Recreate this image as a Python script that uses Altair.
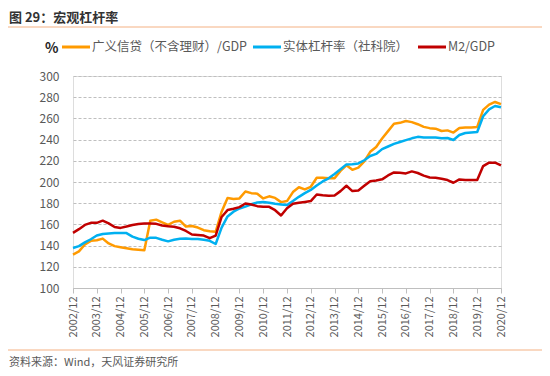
import altair as alt
import pandas as pd

# ---------------- data ----------------
series_names = ["广义信贷（不含理财）/GDP", "实体杠杆率（社科院）", "M2/GDP"]
series_colors = ["#FF9A00", "#00B0F0", "#C00000"]
tick_labels = [f"{y}/12" for y in range(2002, 2021)]  # quarterly data, 2002/12 .. 2020/12

credit = [131.5, 134.5, 141.0, 144.5, 145.0, 146.6, 142.0, 139.5, 138.5, 137.5,
          136.5, 136.0, 135.5, 163.5, 164.5, 162.0, 159.5, 162.5, 163.5, 158.0,
          158.5, 157.0, 154.5, 153.5, 153.0, 172.0, 185.0, 184.0, 184.5, 191.0,
          189.5, 189.0, 184.5, 186.5, 185.0, 181.0, 182.0, 190.5, 195.0, 193.0,
          195.5, 204.0, 204.0, 203.5, 203.5, 210.5, 215.8, 211.5, 213.5, 219.5,
          228.5, 233.0, 241.0, 248.0, 255.0, 255.8, 257.5, 256.5, 254.5, 252.0,
          250.8, 250.3, 248.1, 248.7, 246.6, 251.0, 251.3, 251.5, 252.0, 268.0,
          273.0, 275.5, 273.5]

leverage = [137.8, 139.5, 143.0, 146.0, 149.5, 151.0, 151.5, 152.0, 152.0, 151.8,
            148.5, 146.5, 145.2, 147.5, 147.3, 145.5, 144.0, 145.5, 146.5, 146.8,
            146.3, 146.3, 145.5, 144.5, 141.5, 157.0, 167.5, 172.0, 175.0, 176.8,
            179.0, 180.7, 181.2, 180.5, 179.5, 178.8, 178.2, 182.0, 186.0, 189.5,
            192.5, 196.7, 200.5, 203.5, 207.5, 212.0, 216.6, 216.8, 217.5, 220.5,
            224.5, 226.5, 231.0, 233.5, 236.0, 237.7, 239.5, 241.2, 242.6, 242.0,
            242.0, 242.0, 241.2, 241.5, 239.6, 244.3, 246.2, 246.8, 247.2, 262.0,
            268.5, 271.7, 270.5]

m2 = [152.0, 155.5, 159.5, 161.5, 161.5, 163.5, 161.0, 157.5, 156.7, 158.0,
      159.5, 160.3, 160.8, 160.8, 160.5, 159.0, 158.3, 157.8, 156.3, 153.8,
      150.5, 150.1, 149.5, 147.0, 149.5, 167.0, 173.5, 174.7, 176.3, 179.7,
      178.8, 177.2, 176.6, 176.6, 173.4, 168.4, 175.3, 179.5, 180.5, 181.2,
      182.0, 188.2, 187.5, 187.0, 187.3, 191.4, 196.5, 191.4, 192.0, 196.5,
      200.8, 201.5, 202.5, 206.2, 209.0, 208.7, 208.1, 210.0, 208.5, 206.0,
      204.2, 204.0, 203.1, 201.8, 199.3, 202.4, 202.0, 201.8, 201.8, 215.0,
      218.2, 218.2, 215.6]

rows = []
for name, vals in zip(series_names, [credit, leverage, m2]):
    for i, v in enumerate(vals):
        rows.append({"q": i, "series": name, "value": v})
df = pd.DataFrame(rows)

FONT = "Noto Sans CJK SC"
GRAY = "#595959"
label_array = "[" + ",".join(f"'{t}'" for t in tick_labels) + "]"

lines = alt.Chart(df).mark_line(strokeWidth=2.5, strokeJoin="round").encode(
    x=alt.X("q:Q",
            scale=alt.Scale(domain=[0, 72], nice=False, zero=False),
            axis=alt.Axis(values=list(range(0, 73, 4)),
                          labelExpr=label_array + "[round(datum.value/4)]",
                          labelAngle=270, labelAlign="right", labelBaseline="middle",
                          title=None, grid=False,
                          domainColor="#BFBFBF", tickColor="#BFBFBF", tickSize=5,
                          labelColor=GRAY, labelFontSize=11, labelPadding=3,
                          labelFont=FONT)),
    y=alt.Y("value:Q",
            scale=alt.Scale(domain=[100, 300], nice=False, zero=False),
            axis=alt.Axis(values=list(range(100, 301, 20)), title=None,
                          domain=False, ticks=False,
                          gridDash=[3, 2], gridColor="#BFBFBF", gridWidth=1,
                          labelColor=GRAY, labelFontSize=12, labelPadding=14,
                          labelFont=FONT)),
    color=alt.Color("series:N",
                    scale=alt.Scale(domain=series_names, range=series_colors),
                    legend=None),
    detail="series:N",
)

one = pd.DataFrame({"a": [0]})

# custom legend (line swatch + label) in the reference's positions
legend_layers = []
legend_swatch_x = [(-11, 17), (180, 208), (345, 373)]
for name, col, (x0, x1) in zip(series_names, series_colors, legend_swatch_x):
    legend_layers.append(
        alt.Chart(one).mark_rule(color=col, strokeWidth=3).encode(
            x=alt.value(x0), x2=alt.value(x1), y=alt.value(-29)))
    legend_layers.append(
        alt.Chart(pd.DataFrame({"t": [name]})).mark_text(
            align="left", baseline="middle", fontSize=12.5, font=FONT, color=GRAY
        ).encode(text="t:N", x=alt.value(x1 + 2), y=alt.value(-29)))

title = alt.Chart(pd.DataFrame({"t": ["图 29：宏观杠杆率"]})).mark_text(
    align="left", baseline="middle", fontSize=13, font=FONT, color="#333333",
    fontWeight="bold"
).encode(text="t:N", x=alt.value(-64), y=alt.value(-58))

pct = alt.Chart(pd.DataFrame({"t": ["%"]})).mark_text(
    align="left", baseline="middle", fontSize=14, font=FONT, color="#262626",
    fontWeight="bold"
).encode(text="t:N", x=alt.value(-28), y=alt.value(-27))

source = alt.Chart(pd.DataFrame({"t": ["资料来源：Wind，天风证券研究所"]})).mark_text(
    align="left", baseline="middle", fontSize=11, font=FONT, color=GRAY
).encode(text="t:N", x=alt.value(-64), y=alt.value(287))

top_rule = alt.Chart(one).mark_rule(color="#F4B183", strokeWidth=1).encode(
    x=alt.value(-65), x2=alt.value(469), y=alt.value(-49))
bottom_rule = alt.Chart(one).mark_rule(color="#F4B183", strokeWidth=1).encode(
    x=alt.value(-65), x2=alt.value(469), y=alt.value(274))

chart = alt.layer(lines, *legend_layers, title, pct, source, top_rule, bottom_rule).properties(
    width=428, height=212,
    autosize=alt.AutoSizeParams(type="none"),
    padding={"left": 65, "top": 68, "right": 41, "bottom": 80},
).configure_view(strokeWidth=0).configure(font=FONT)

chart.save("out.html", embed_options={"renderer": "svg", "actions": False})
